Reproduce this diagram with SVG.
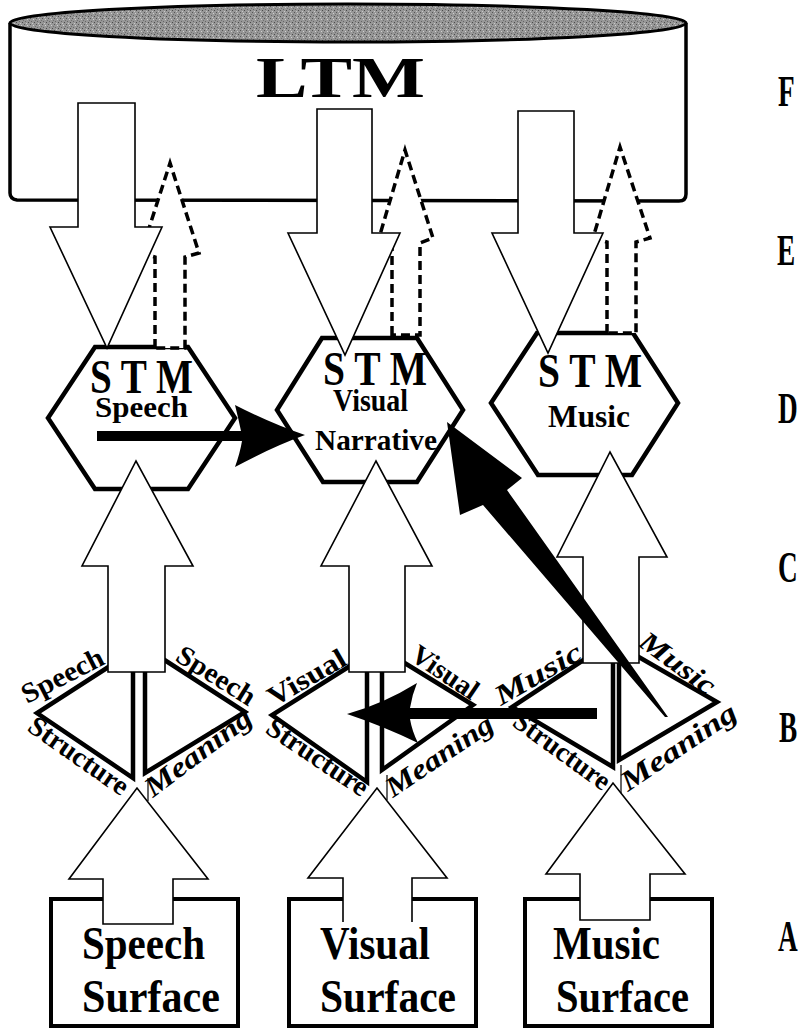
<svg xmlns="http://www.w3.org/2000/svg" width="803" height="1029" viewBox="0 0 803 1029">
<defs>
<pattern id="speck" width="6" height="6" patternUnits="userSpaceOnUse">
<rect width="6" height="6" fill="#979797"/>
<rect x="0" y="0" width="1" height="1" fill="#555"/>
<rect x="3" y="1" width="1" height="1" fill="#d0d0d0"/>
<rect x="1" y="3" width="1" height="1" fill="#666"/>
<rect x="4" y="4" width="1" height="1" fill="#4a4a4a"/>
<rect x="2" y="5" width="1" height="1" fill="#c8c8c8"/>
<rect x="5" y="2" width="1" height="1" fill="#707070"/>
</pattern>
</defs>
<style>
text{font-family:"Liberation Serif","Times New Roman",serif;font-weight:bold;fill:#000}
.hex{fill:#fff;stroke:#000;stroke-width:4.5;stroke-linejoin:miter}
.box{fill:#fff;stroke:#000;stroke-width:4}
.dia{fill:none;stroke:#000;stroke-width:4.5;stroke-linejoin:miter}
.thin{fill:none;stroke:#000;stroke-width:1.2}
.wa{fill:#fff;stroke:#000;stroke-width:1.6;stroke-linejoin:miter}
.wl{fill:none;stroke:#000;stroke-width:1.6;stroke-linejoin:miter}
.da{fill:#fff;stroke:#000;stroke-width:3.5;stroke-dasharray:9 5}
.ba{fill:#000;stroke:none}
.lab{font-size:28px}
.it{font-style:italic}
.rl{font-size:44px}
</style>
<rect width="803" height="1029" fill="#fff"/>

<g id="ltm">
<path d="M10,23 L10,193 Q10,199 17,200 L679,201 Q686,201 686,194 L686,23" fill="#fff" stroke="#000" stroke-width="3.5"/>
<ellipse cx="348" cy="23" rx="338" ry="19" fill="url(#speck)" stroke="#000" stroke-width="3"/>
<text x="256" y="97" font-size="56" textLength="169" lengthAdjust="spacingAndGlyphs">LTM</text>
</g>

<g id="stm-speech">
<polygon class="hex" points="95,347 188,347 235,418 188,489 95,489 48,418"/>
</g>
<g id="stm-visual">
<polygon class="hex" points="322,338 417,338 463,410 417,482 323,482 277,410"/>
</g>
<g id="stm-music">
<polygon class="hex" points="537,333 633,333 678,403 632,475 538,475 491,403"/>
</g>

<g id="structure-speech">
<path class="dia" d="M110,666 L37,713 L133,778 L133,672"/>
<path class="dia" d="M163,659 L245,712 L145,773 L145,672"/>
<path class="thin" d="M148,778 L148,801"/>
<text class="lab" x="27" y="704" transform="rotate(-27 27 704)" textLength="89" lengthAdjust="spacingAndGlyphs">Speech</text>
<text class="lab" x="174" y="660" transform="rotate(32 174 660)" textLength="88" lengthAdjust="spacingAndGlyphs">Speech</text>
<text class="lab" x="26" y="730" transform="rotate(35 26 730)" textLength="116" lengthAdjust="spacingAndGlyphs">Structure</text>
<text class="lab it" x="153" y="798" transform="rotate(-37 153 798)" textLength="127" lengthAdjust="spacingAndGlyphs">Meaning</text>
</g>

<g id="structure-visual">
<path class="dia" d="M350,666 L272,715 L367,782 L367,672"/>
<path class="dia" d="M403,662 L473,705 L382,770 L382,672"/>
<path class="thin" d="M387,775 L387,800"/>
<text class="lab" x="274" y="707" transform="rotate(-30 274 707)" textLength="86" lengthAdjust="spacingAndGlyphs">Visual</text>
<text class="lab" x="409" y="659" transform="rotate(34 409 659)" textLength="75" lengthAdjust="spacingAndGlyphs">Visual</text>
<text class="lab" x="264" y="732" transform="rotate(34 264 732)" textLength="117" lengthAdjust="spacingAndGlyphs">Structure</text>
<text class="lab it" x="393" y="798" transform="rotate(-34 393 798)" textLength="124" lengthAdjust="spacingAndGlyphs">Meaning</text>
</g>

<g id="structure-music">
<path class="dia" d="M585,659 L512,707 L613,767 L613,663"/>
<path class="dia" d="M637,656 L717,702 L619,760 L619,663"/>
<path class="thin" d="M621,765 L621,797"/>
<text class="lab it" x="501" y="706" transform="rotate(-30 501 706)" textLength="96" lengthAdjust="spacingAndGlyphs">Music</text>
<text class="lab it" x="637" y="645" transform="rotate(36 637 645)" textLength="87" lengthAdjust="spacingAndGlyphs">Music</text>
<text class="lab" x="511" y="725" transform="rotate(36 511 725)" textLength="113" lengthAdjust="spacingAndGlyphs">Structure</text>
<text class="lab it" x="628" y="792" transform="rotate(-34 628 792)" textLength="134" lengthAdjust="spacingAndGlyphs">Meaning</text>
</g>

<g id="surface-speech">
<rect class="box" x="51" y="899" width="187" height="127"/>
</g>
<g id="surface-visual">
<rect class="box" x="289" y="899" width="187" height="127"/>
</g>
<g id="surface-music">
<rect class="box" x="525" y="899" width="187" height="127"/>
</g>

<g id="connectors">
<path class="da" d="M155,348 L155,257 L141,253 L170,163 L199,253 L185,257 L185,348 Z"/>
<path class="da" d="M392,335 L392,243 L379,238 L405,150 L433,238 L420,243 L420,335 Z"/>
<path class="da" d="M607,333 L607,242 L593,238 L620,147 L650,238 L636,242 L636,333 Z"/>
<path class="wa" d="M78,103 L135,103 L135,227 L162,227 L107,348 L50,227 L78,227 Z"/>
<path class="wa" d="M317,109 L372,109 L372,233 L400,233 L345,355 L288,233 L317,233 Z"/>
<path class="wa" d="M518,111 L574,111 L574,233 L603,233 L548,353 L492,233 L518,233 Z"/>
<path class="wa" d="M108,672 L108,566 L82,566 L136,461 L193,566 L165,566 L165,672 Z"/>
<path class="wa" d="M349,672 L349,566 L321,566 L376,461 L432,566 L405,566 L405,672 Z"/>
<path class="wa" d="M583,663 L583,557 L557,557 L610,452 L667,557 L639,557 L639,663 Z"/>
<path class="wa" d="M103,924 L103,879 L69,879 L137,788 L208,879 L173,879 L173,924 Z"/>
<path d="M343,922 L343,878 L308,878 L377,788 L447,878 L412,878 L412,922 Z" fill="#fff"/>
<path class="wl" d="M343,922 L343,878 L308,878 L377,788 L447,878 L412,878 L412,922"/>
<path class="wa" d="M580,920 L580,874 L546,874 L613,783 L685,874 L650,874 L650,920 Z"/>
<path class="ba" d="M97,431 L241,431 Q238,417 235,405 Q272,424 305,435 Q272,447 235,467 Q240,453 242,441 L97,441 Z"/>
<path class="ba" d="M597,708 L410,708 Q412,695 417,683 Q383,704 347,714 Q383,726 418,743 Q412,731 410,719 L597,719 Z"/>
<path class="ba" d="M447,422 L522,478 L507,490 L668,717 L665,717 L483,505 L460,515 Z"/>
</g>

<g id="stm-labels">
<text x="90" y="393" font-size="48" textLength="103" lengthAdjust="spacingAndGlyphs">S T M</text>
<text x="95" y="417" font-size="30" textLength="93" lengthAdjust="spacingAndGlyphs">Speech</text>
<text x="323" y="385" font-size="48" textLength="104" lengthAdjust="spacingAndGlyphs">S T M</text>
<text x="333" y="411" font-size="31" textLength="75" lengthAdjust="spacingAndGlyphs">Visual</text>
<text x="315" y="450" font-size="30" textLength="122" lengthAdjust="spacingAndGlyphs">Narrative</text>
<text x="538" y="387" font-size="48" textLength="104" lengthAdjust="spacingAndGlyphs">S T M</text>
<text x="548" y="427" font-size="32" textLength="82" lengthAdjust="spacingAndGlyphs">Music</text>
</g>

<g id="surface-labels">
<text x="82" y="959" font-size="46" textLength="123" lengthAdjust="spacingAndGlyphs">Speech</text>
<text x="82" y="1012" font-size="46" textLength="138" lengthAdjust="spacingAndGlyphs">Surface</text>
<text x="320" y="959" font-size="46" textLength="110" lengthAdjust="spacingAndGlyphs">Visual</text>
<text x="320" y="1012" font-size="46" textLength="136" lengthAdjust="spacingAndGlyphs">Surface</text>
<text x="553" y="959" font-size="46" textLength="107" lengthAdjust="spacingAndGlyphs">Music</text>
<text x="556" y="1012" font-size="46" textLength="133" lengthAdjust="spacingAndGlyphs">Surface</text>
</g>

<g id="levels">
<text class="rl" transform="translate(778,106) scale(0.62,1)">F</text>
<text class="rl" transform="translate(777,265) scale(0.62,1)">E</text>
<text class="rl" transform="translate(778,423) scale(0.62,1)">D</text>
<text class="rl" transform="translate(778,582) scale(0.62,1)">C</text>
<text class="rl" transform="translate(779,742) scale(0.62,1)">B</text>
<text class="rl" transform="translate(778,951) scale(0.62,1)">A</text>
</g>
</svg>
